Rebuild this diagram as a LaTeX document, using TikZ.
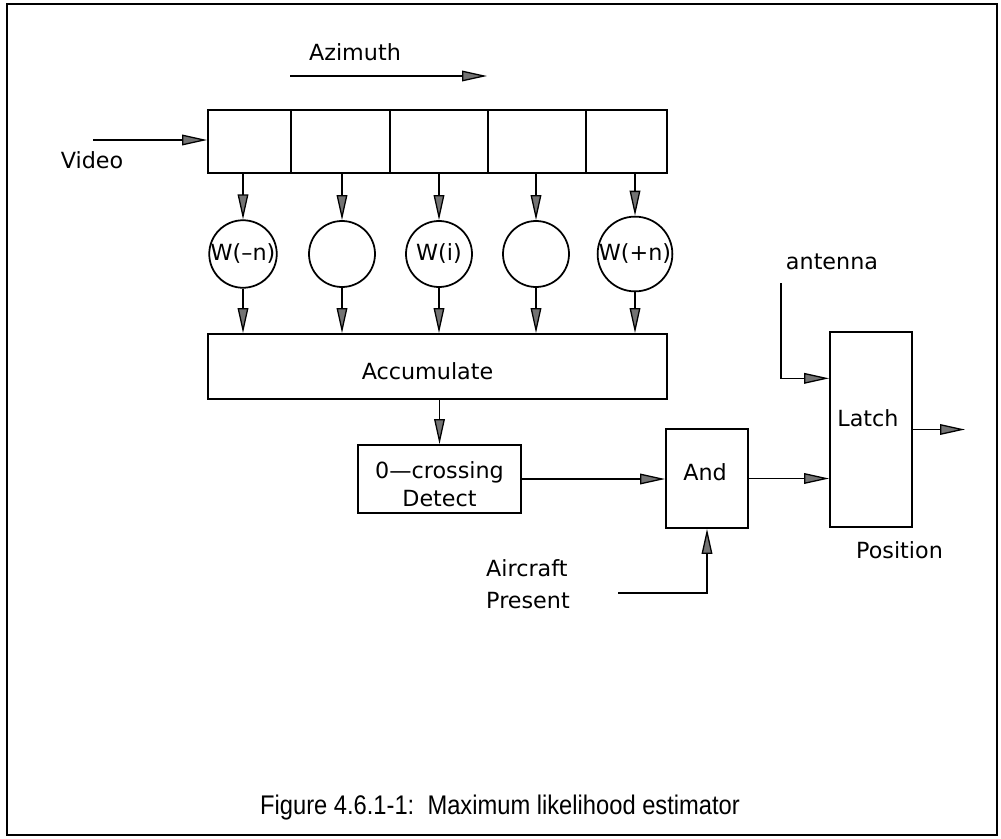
\documentclass[tikz,border=0pt]{standalone}
\usepackage{fontspec}
\setmainfont{DejaVu Sans}
\newfontfamily\capfont[FakeStretch=0.88]{Liberation Sans}
\usetikzlibrary{arrows.meta,calc,positioning}

\begin{document}
\begin{tikzpicture}[x=0.03cm,y=-0.03cm]
	\def\txt{\fontsize{19}{27}\selectfont}

	\tikzset{line/.style={draw,line width=1.5pt}}
	\tikzset{arrow/.style={draw,line width=1.3pt,-{Triangle[length=7.5mm,width=3.2mm,fill=black!55,line width=1.1pt]}}}
	\tikzset{box/.style={line,shape=rectangle,inner sep=0pt,minimum height=#1,font=\txt,align=center}}
	\tikzset{weight/.style={line,shape=circle,inner sep=0pt,minimum size=1.98cm,font=\txt}}
	\tikzset{label/.style={inner sep=0pt,font=\txt}}

	\useasboundingbox (0,0) rectangle (1001,839);
	\draw[line width=2.4pt] (7,4) rectangle (997,835);

	% shift register
	\node[box=1.89cm,minimum width=2.49cm] (c1) at (249.5,141.5) {};
	\node[box=1.89cm,minimum width=2.97cm] (c2) at (340.5,141.5) {};
	\node[box=1.89cm,minimum width=2.94cm] (c3) at (439,141.5) {};
	\node[box=1.89cm,minimum width=2.94cm] (c4) at (537,141.5) {};
	\node[box=1.89cm,minimum width=2.43cm] (c5) at (626.5,141.5) {};

	% weights
	\node[weight] (w1) at (243,254) {W(--n)};
	\node[weight] (w2) at (342,254) {};
	\node[weight] (w3) at (439,254) {W(i)};
	\node[weight] (w4) at (536,254) {};
	\node[weight] (w5) at (635,254) {W(+n)};

	% blocks, their texts sit off centre
	\node[box=1.95cm,minimum width=13.77cm] (acc) at (437.5,366.5) {};
	\node[box=2.04cm,minimum width=4.89cm,font=\fontsize{19}{23}\selectfont] (zc) at (439.5,479) {};
	\node[box=2.97cm,minimum width=2.46cm] (and) at (707,478.5) {};
	\node[box=5.85cm,minimum width=2.46cm] (latch) at (871,429.5) {};

	\node[label] (acctxt) at ($(acc)+(-10,4.5)$) {Accumulate};
	\node[label,align=center,font=\fontsize{19}{24}\selectfont] (zctxt) at ($(zc)+(0,5)$) {0---crossing\\Detect};
	\node[label] (andtxt) at ($(and)+(-2,-6)$) {And};
	\node[label] (latchtxt) at ($(latch)+(-3,-11)$) {Latch};

	\node[label] (azi) at (355,52) {Azimuth};
	\node[label] (vid) at (92,160) {Video};
	\node[label,anchor=west,align=left] (air) at (486,584) {Aircraft\\Present};
	\node[label] (ant) at (832,262) {antenna};
	\node[label] (pos) at (899.5,550) {Position};
	\node[inner sep=0pt,font=\capfont\fontsize{23}{26}\selectfont] (cap) at (500,808) {Figure 4.6.1-1:\ \ Maximum likelihood estimator};

	\coordinate (azA) at (290,76);
	\coordinate (azB) at (487,76);
	\coordinate (vin) at (93,140);
	\coordinate (airin) at (618,593);
	\coordinate (antin) at (781,283);
	\coordinate (out) at (965,429.5);

	\draw[arrow] (azA) -- (azB);
	\draw[arrow] (vin) -- (vin -| c1.west);
	\foreach \i in {1,...,5} {
		\draw[arrow] (w\i |- c1.south) -- (w\i.north);
		\draw[arrow] (w\i.south) -- (w\i.south |- acc.north);
	}
	\draw[arrow] (zc |- acc.south) -- (zc.north);
	\draw[arrow] (zc.east) -- (zc.east -| and.west);
	\draw[arrow] (airin) -| (and.south);
	\draw[arrow] (and.east) -- (and.east -| latch.west);
	\draw[arrow] (antin) |- ($(latch.north west)!0.24!(latch.south west)$);
	\draw[arrow] (latch.east) -- (out);
\end{tikzpicture}
\end{document}
